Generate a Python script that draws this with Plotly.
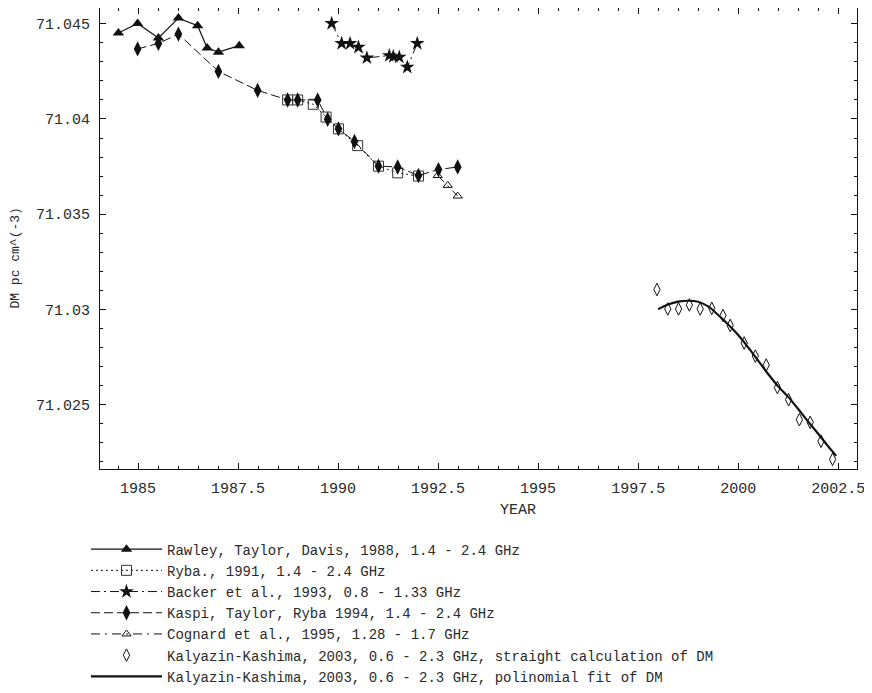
import plotly.graph_objects as go

# ---- data ----
rawley_year = [1984.51, 1984.99, 1985.51, 1986.01, 1986.49, 1986.73, 1987.01, 1987.53]
rawley_dm = [71.04452, 71.04502, 71.04426, 71.04530, 71.04490, 71.04373, 71.04351, 71.04385]

ryba_year = [1988.74, 1988.99, 1989.38, 1989.70, 1990.01, 1990.49, 1991.01, 1991.49, 1992.01]
ryba_dm = [71.04100, 71.04100, 71.04077, 71.04010, 71.03948, 71.03860, 71.03752, 71.03717, 71.03700]

backer_year = [1989.84, 1990.09, 1990.30, 1990.51, 1990.72, 1991.28, 1991.38, 1991.53, 1991.73, 1991.98]
backer_dm = [71.04502, 71.04397, 71.04397, 71.04377, 71.04321, 71.04333, 71.04328, 71.04325, 71.04272, 71.04397]

kaspi_year = [1984.99, 1985.51, 1986.01, 1987.01, 1987.99, 1988.74, 1988.99, 1989.49, 1989.74,
              1990.01, 1990.41, 1991.01, 1991.49, 1992.01, 1992.51, 1992.99]
kaspi_dm = [71.04368, 71.04397, 71.04446, 71.04250, 71.04150, 71.04100, 71.04100, 71.04100, 71.03998,
            71.03948, 71.03882, 71.03752, 71.03748, 71.03703, 71.03734, 71.03748]

cognard_year = [1992.49, 1992.74, 1992.99]
cognard_dm = [71.03703, 71.03651, 71.03595]

kk_year = [1997.97, 1998.24, 1998.51, 1998.78, 1999.05, 1999.34, 1999.62, 1999.80, 2000.15,
           2000.43, 2000.70, 2000.98, 2001.26, 2001.53, 2001.80, 2002.07, 2002.36]
kk_dm = [71.03104, 71.03002, 71.03002, 71.03023, 71.03002, 71.03005, 71.02967, 71.02915, 71.02823,
         71.02754, 71.02707, 71.02589, 71.02525, 71.02420, 71.02406, 71.02307, 71.02212]

fit_year = [1998.00, 1998.25, 1998.50, 1998.75, 1999.00, 1999.25, 1999.50, 1999.75, 2000.00,
            2000.25, 2000.50, 2000.75, 2001.00, 2001.25, 2001.50, 2001.75, 2002.00, 2002.25, 2002.45]
fit_dm = [71.03000, 71.03025, 71.03040, 71.03045, 71.03040, 71.03015, 71.02970, 71.02920, 71.02865,
          71.02800, 71.02730, 71.02660, 71.02595, 71.02540, 71.02476, 71.02410, 71.02346, 71.02280, 71.02230]

x_ticks = [1985, 1987.5, 1990, 1992.5, 1995, 1997.5, 2000, 2002.5]
x_tick_text = ["1985", "1987.5", "1990", "1992.5", "1995", "1997.5", "2000", "2002.5"]
y_ticks = [71.025, 71.03, 71.035, 71.04, 71.045]
y_tick_text = ["71.025", "71.03", "71.035", "71.04", "71.045"]

names = [
    "Rawley, Taylor, Davis, 1988, 1.4 - 2.4 GHz",
    "Ryba., 1991, 1.4 - 2.4 GHz",
    "Backer et al., 1993, 0.8 - 1.33 GHz",
    "Kaspi, Taylor, Ryba 1994, 1.4 - 2.4 GHz",
    "Cognard et al., 1995, 1.28 - 1.7 GHz",
    "Kalyazin-Kashima, 2003, 0.6 - 2.3 GHz, straight calculation of DM",
    "Kalyazin-Kashima, 2003, 0.6 - 2.3 GHz, polinomial fit of DM",
]

MONO = "Liberation Mono"
INK = "#111111"
TXT = "#2a2a2a"

fig = go.Figure()

fig.add_trace(go.Scatter(
    x=rawley_year, y=rawley_dm, mode="lines+markers", name=names[0], legendgroup="a",
    line=dict(color=INK, width=1.2),
    marker=dict(symbol="triangle-up", size=10, color=INK)))
fig.add_trace(go.Scatter(
    x=ryba_year, y=ryba_dm, mode="lines+markers", name=names[1], legendgroup="b",
    line=dict(color=INK, width=1, dash="2px,3px"),
    marker=dict(symbol="square-open", size=10, color="#333333", line=dict(width=1))))
fig.add_trace(go.Scatter(
    x=backer_year, y=backer_dm, mode="lines+markers", name=names[2], legendgroup="c",
    line=dict(color=INK, width=1, dash="9px,4px,2px,4px"),
    marker=dict(symbol="star", size=11, color=INK)))
fig.add_trace(go.Scatter(
    x=kaspi_year, y=kaspi_dm, mode="lines+markers", name=names[3], legendgroup="d",
    line=dict(color=INK, width=1, dash="9px,4px"),
    marker=dict(symbol="diamond-tall", size=11, color=INK)))
fig.add_trace(go.Scatter(
    x=cognard_year, y=cognard_dm, mode="lines+markers", name=names[4], legendgroup="e",
    line=dict(color=INK, width=1, dash="9px,5px,2px,5px"),
    marker=dict(symbol="triangle-up-open", size=8, color=INK, line=dict(width=1))))
fig.add_trace(go.Scatter(
    x=kk_year, y=kk_dm, mode="markers", name=names[5], legendgroup="f",
    marker=dict(symbol="diamond-tall-open", size=9, color=INK, line=dict(width=1))))
fig.add_trace(go.Scatter(
    x=fit_year, y=fit_dm, mode="lines", name=names[6], legendgroup="g",
    line=dict(color=INK, width=2.2, shape="spline")))

axis_common = dict(
    showgrid=False, zeroline=False, showline=True, linecolor=INK, linewidth=1,
    mirror="allticks", ticks="inside", ticklen=6, tickwidth=1, tickcolor=INK,
    tickfont=dict(family=MONO, size=15, color=TXT),
)

fig.update_xaxes(
    range=[1984.05, 2002.97], tickmode="array", tickvals=x_ticks, ticktext=x_tick_text,
    minor=dict(dtick=0.5, tick0=1985, ticks="inside", ticklen=3, tickcolor=INK),
    ticklabelstandoff=5, **axis_common)
fig.update_yaxes(
    range=[71.02161, 71.04583], tickmode="array", tickvals=y_ticks, ticktext=y_tick_text,
    minor=dict(dtick=0.001, tick0=71.025, ticks="inside", ticklen=3, tickcolor=INK),
    ticklabelstandoff=6, **axis_common)

fig.add_annotation(text="YEAR", xref="paper", yref="paper", x=0.552, y=-0.090,
                   showarrow=False, font=dict(family=MONO, size=15, color=TXT),
                   xanchor="center", yanchor="middle")
fig.add_annotation(text="DM pc cm^(-3)", xref="paper", yref="paper", x=-0.112, y=0.457,
                   textangle=-90, showarrow=False,
                   font=dict(family=MONO, size=13, color=TXT),
                   xanchor="center", yanchor="middle")

fig.update_layout(
    width=864, height=685,
    margin=dict(l=92, r=15, t=0, b=221),
    paper_bgcolor="white", plot_bgcolor="white",
    showlegend=True,
    legend=dict(x=-0.0185, y=-0.140, xanchor="left", yanchor="top",
                font=dict(family=MONO, size=14, color=TXT),
                bgcolor="rgba(0,0,0,0)", itemwidth=71, tracegroupgap=2.4,
                traceorder="normal"),
)

fig.write_html("out.html")
